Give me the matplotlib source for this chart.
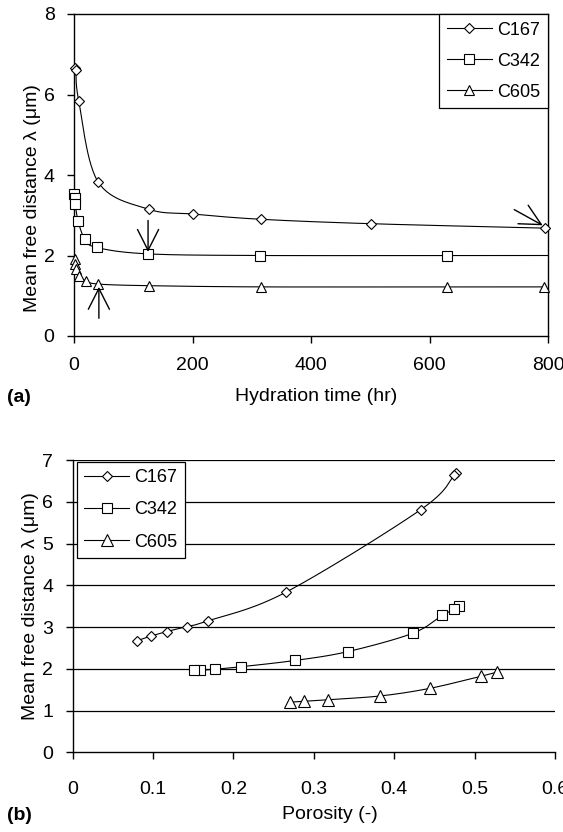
import numpy as np
import matplotlib
matplotlib.use("Agg")
import matplotlib.pyplot as plt
from matplotlib.lines import Line2D

plt.rcParams['font.family'] = ['Liberation Sans', 'DejaVu Sans']

# ---------------- data: (a) hydration time ----------------
series_names = ["C167", "C342", "C605"]

t_c167 = [1, 3, 8, 41, 126, 201, 315, 501, 795]
lam_t_c167 = [6.65, 6.62, 5.84, 3.82, 3.15, 3.03, 2.90, 2.79, 2.68]

t_c342 = [0.5, 1, 2, 7, 18, 38, 125, 314, 629, 950]
lam_t_c342 = [3.54, 3.44, 3.27, 2.85, 2.42, 2.20, 2.04, 2.00, 2.00, 2.00]

t_c605 = [1, 2, 4, 8, 20, 41, 126, 315, 630, 794]
lam_t_c605 = [1.91, 1.79, 1.66, 1.50, 1.37, 1.29, 1.25, 1.22, 1.22, 1.22]

# ---------------- data: (b) porosity ----------------
por_c167 = [0.477, 0.475, 0.433, 0.265, 0.169, 0.142, 0.117, 0.097, 0.080]
lam_p_c167 = [6.68, 6.64, 5.81, 3.83, 3.15, 3.01, 2.89, 2.78, 2.67]

por_c342 = [0.480, 0.475, 0.460, 0.423, 0.342, 0.277, 0.210, 0.177, 0.158, 0.151]
lam_p_c342 = [3.50, 3.43, 3.28, 2.85, 2.41, 2.20, 2.05, 1.99, 1.96, 1.96]

por_c605 = [0.528, 0.508, 0.444, 0.383, 0.318, 0.288, 0.270]
lam_p_c605 = [1.92, 1.82, 1.53, 1.35, 1.26, 1.22, 1.20]

# arrows in panel (a): (x_from, y_from, x_to, y_to)
arrows_a = [(125, 2.87, 125, 2.09),
            (42, 0.44, 42, 1.22),
            (743, 3.14, 791, 2.75)]

x_ticks_a = [0, 200, 400, 600, 800]
y_ticks_a = [0, 2, 4, 6, 8]
x_ticks_b = [0, 0.1, 0.2, 0.3, 0.4, 0.5, 0.6]
x_ticklabels_b = ["0", "0.1", "0.2", "0.3", "0.4", "0.5", "0.6"]
y_ticks_b = [0, 1, 2, 3, 4, 5, 6, 7]

ylabel = "Mean free distance λ (μm)"

# ---------------- helpers ----------------
def bezier_smooth(P, n=30):
    P = np.asarray(P, dtype=float)
    if len(P) < 3:
        return P
    ext = np.vstack([P[0], P, P[-1]])
    out = []
    tt = np.linspace(0, 1, n)[:, None]
    for i in range(1, len(ext) - 2):
        p0, p1, p2, p3 = ext[i - 1], ext[i], ext[i + 1], ext[i + 2]
        c1 = p1 + (p2 - p0) / 6.0
        c2 = p2 - (p3 - p1) / 6.0
        seg = ((1 - tt) ** 3) * p1 + 3 * ((1 - tt) ** 2) * tt * c1 \
            + 3 * (1 - tt) * tt ** 2 * c2 + tt ** 3 * p2
        out.append(seg)
    return np.vstack(out)


def smooth_line(ax, x, y, lw=0.8):
    disp = ax.transData.transform(np.column_stack([x, y]))
    curve = bezier_smooth(disp)
    data = ax.transData.inverted().transform(curve)
    ax.plot(data[:, 0], data[:, 1], color='black', lw=lw, zorder=2)


FS = 14
W, H = 563, 832
fig = plt.figure(figsize=(W / 100, H / 100), dpi=100)

# ---------------- panel (a) ----------------
axA = fig.add_axes([74 / W, 1 - 336 / H, (548 - 74) / W, (336 - 14) / H])
axA.set_xlim(0, 800)
axA.set_ylim(0, 8)
axA.set_xticks(x_ticks_a)
axA.set_yticks(y_ticks_a)
axA.tick_params(direction='out', length=5, width=1, labelsize=FS,
                top=False, right=False)
axA.tick_params(axis='x', pad=10)
axA.tick_params(axis='y', pad=9)
for s in axA.spines.values():
    s.set_linewidth(1.0)
    s.set_color('black')

markers_a = ['D', 's', '^']
msizes_a = [4.8, 6.6, 7.5]
series_a = [(t_c167, lam_t_c167), (t_c342, lam_t_c342), (t_c605, lam_t_c605)]
xmax_a = 800
for (x, y), m, ms in zip(series_a, markers_a, msizes_a):
    smooth_line(axA, x, y)
    xa = np.asarray(x, dtype=float)
    ya = np.asarray(y, dtype=float)
    vis = xa <= xmax_a
    axA.plot(xa[vis], ya[vis], linestyle='none', marker=m, ms=ms, mfc='white',
             mec='black', mew=0.8, zorder=3, clip_on=False)

for (x0, y0, x1, y1) in arrows_a:
    axA.annotate("", xy=(x1, y1), xytext=(x0, y0),
                 arrowprops=dict(arrowstyle='->,head_length=0.75,head_width=0.38',
                                 color='black', lw=1.0, shrinkA=0, shrinkB=0,
                                 mutation_scale=20), zorder=4)

handles_a = [Line2D([], [], color='black', lw=0.8, marker=m, ms=ms, mfc='white',
                    mec='black', mew=0.8)
             for m, ms in zip(markers_a, msizes_a)]
legA = axA.legend(handles_a, series_names, loc='upper right',
                  bbox_to_anchor=(1.0, 1.0), borderaxespad=0, fontsize=13,
                  handlelength=2.5, handletextpad=0.3, labelspacing=0.78,
                  borderpad=0.42, fancybox=False, framealpha=1,
                  edgecolor='black')
legA.get_frame().set_linewidth(0.9)

axA.set_xlabel("Hydration time (hr)", fontsize=FS)
axA.xaxis.set_label_coords(0.511, -0.189)
axA.xaxis.label.set_va('center')
axA.set_ylabel(ylabel, fontsize=FS)
axA.yaxis.set_label_coords(-0.0865, 0.4286)
axA.yaxis.label.set_va('center')

fig.text(7 / W, 1 - 397 / H, "(a)", fontsize=FS, fontweight='bold',
         ha='left', va='center')

# ---------------- panel (b) ----------------
axB = fig.add_axes([72.5 / W, 1 - 752.3 / H, (555 - 72.5) / W, (752.3 - 460) / H])
axB.set_xlim(0, 0.6)
axB.set_ylim(0, 7)
axB.set_xticks(x_ticks_b)
axB.set_xticklabels(x_ticklabels_b)
axB.set_yticks(y_ticks_b)
axB.tick_params(direction='out', length=5, width=1, labelsize=FS)
axB.tick_params(axis='x', pad=16)
axB.tick_params(axis='y', pad=9)
axB.spines['top'].set_visible(False)
axB.spines['right'].set_visible(False)
for s in ['left', 'bottom']:
    axB.spines[s].set_linewidth(1.0)
    axB.spines[s].set_color('black')
for yv in y_ticks_b[1:]:
    axB.axhline(yv, color='black', lw=0.9, zorder=1)

markers_b = ['D', 's', '^']
msizes_b = [5.4, 7.2, 9.0]
series_b = [(por_c167, lam_p_c167), (por_c342, lam_p_c342), (por_c605, lam_p_c605)]
for (x, y), m, ms in zip(series_b, markers_b, msizes_b):
    smooth_line(axB, x, y)
    axB.plot(x, y, linestyle='none', marker=m, ms=ms, mfc='white',
             mec='black', mew=0.8, zorder=3, clip_on=False)

handles_b = [Line2D([], [], color='black', lw=0.8, marker=m, ms=ms, mfc='white',
                    mec='black', mew=0.8)
             for m, ms in zip(markers_b, msizes_b)]
legB = axB.legend(handles_b, series_names, loc='upper left',
                  bbox_to_anchor=(0.009, 0.994), borderaxespad=0, fontsize=13,
                  handlelength=2.5, handletextpad=0.3, labelspacing=0.85,
                  borderpad=0.4, fancybox=False, framealpha=1,
                  edgecolor='black')
legB.get_frame().set_linewidth(0.9)
legB.set_zorder(5)

axB.set_xlabel("Porosity (-)", fontsize=FS)
axB.xaxis.set_label_coords(0.534, -0.2145)
axB.xaxis.label.set_va('center')
axB.set_ylabel(ylabel, fontsize=FS)
axB.yaxis.set_label_coords(-0.088, 0.50)
axB.yaxis.label.set_va('center')

fig.text(7 / W, 1 - 815 / H, "(b)", fontsize=FS, fontweight='bold',
         ha='left', va='center')

fig.savefig("out.png", dpi=100)
